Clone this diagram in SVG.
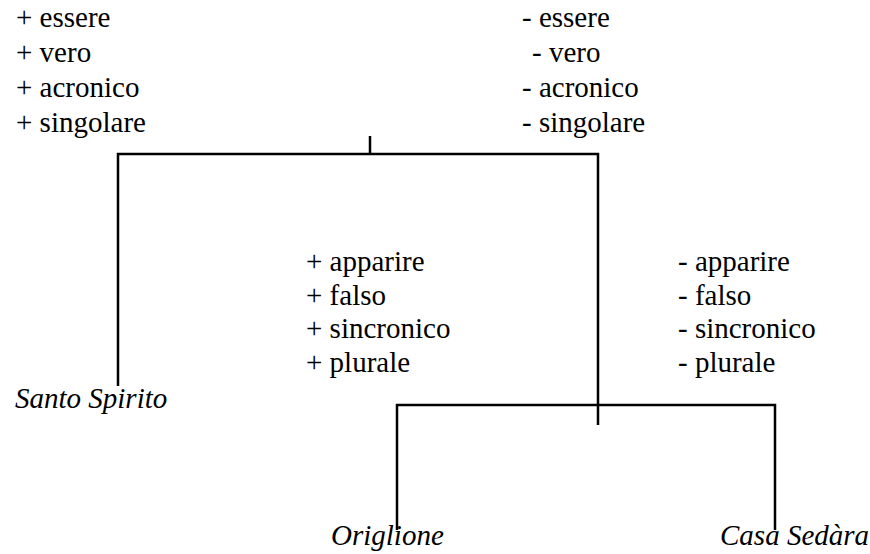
<svg xmlns="http://www.w3.org/2000/svg" width="870" height="554" viewBox="0 0 870 554">
<style>
.ln{stroke:#000;stroke-width:2.5;fill:none}
</style>
<rect width="870" height="554" fill="#fff"/>
<g id="connectors">
<polyline class="ln" points="118,386 118,154 598,154 598,425"/>
<line class="ln" x1="370" y1="136" x2="370" y2="154"/>
<polyline class="ln" points="397,530 397,405 775,405 775,530"/>
</g>
<g font-family="Liberation Serif, Tinos, Times New Roman, Times, DejaVu Serif, serif" font-size="29" fill="#000">
<g id="plus-top">
<text x="16" y="27">+ essere</text>
<text x="16" y="62">+  vero</text>
<text x="16" y="97">+ acronico</text>
<text x="16" y="132">+ singolare</text>
</g>
<g id="minus-top">
<text x="522" y="27">- essere</text>
<text x="532" y="62">- vero</text>
<text x="522" y="97">- acronico</text>
<text x="522" y="132">- singolare</text>
</g>
<g id="plus-mid">
<text x="306" y="271">+ apparire</text>
<text x="306" y="305">+ falso</text>
<text x="306" y="338">+ sincronico</text>
<text x="306" y="372">+ plurale</text>
</g>
<g id="minus-mid">
<text x="678" y="271">- apparire</text>
<text x="678" y="305">- falso</text>
<text x="678" y="338">- sincronico</text>
<text x="678" y="372">- plurale</text>
</g>
<g id="santo-spirito"><text font-style="italic" x="15" y="408">Santo Spirito</text></g>
<g id="origlione"><text font-style="italic" x="331" y="545">Origlione</text></g>
<g id="casa-sedara"><text font-style="italic" x="720" y="545">Casa Sedàra</text></g>
</g>
</svg>
